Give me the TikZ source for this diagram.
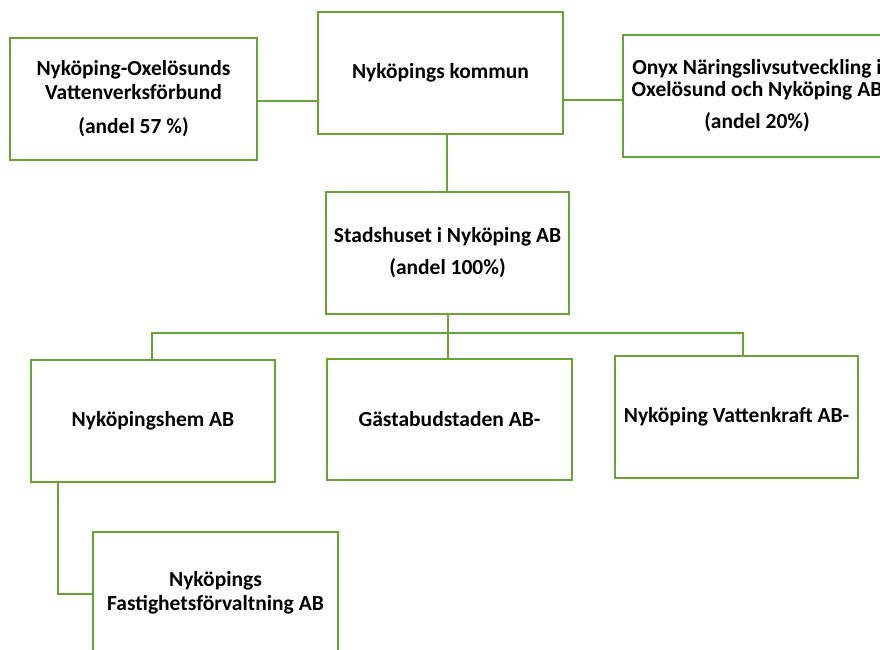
\documentclass[tikz,border=0pt]{standalone}
\usepackage{fontspec}
\setmainfont{Carlito}
\definecolor{boxgreen}{RGB}{104,164,52}
\begin{document}
\begin{tikzpicture}[x=1pt,y=-1pt,
  box/.style={draw=boxgreen,line width=2.6pt,fill=white,inner sep=0pt,align=center,
    font=\fontsize{21.5}{24}\selectfont\bfseries},
  conn/.style={draw=boxgreen,line width=2.6pt}]
\clip (0,0) rectangle (880,649);
\useasboundingbox (0,0) rectangle (880,649);
\node[box,minimum width=247pt,minimum height=122pt] (vv) at (133.5,99)
  {Nyköping-Oxelösunds\\Vattenverksförbund\\[10pt](andel 57 \%)};
\node[box,minimum width=245pt,minimum height=122pt] (kom) at (440.5,73) {Nyköpings kommun};
\node[box,minimum width=268pt,minimum height=122pt] (onyx) at (757,96)
  {Onyx Näringslivsutveckling i\\[-2pt]Oxelösund och Nyköping AB\\[8pt](andel 20\%)};
\node[box,minimum width=243pt,minimum height=122pt] (stad) at (447.5,253)
  {Stadshuset i Nyköping AB\\[8pt](andel 100\%)};
\node[box,minimum width=244pt,minimum height=122pt] (hem) at (153,421) {Nyköpingshem AB};
\node[box,minimum width=245pt,minimum height=121pt] (gast) at (449.5,419.5) {Gästabudstaden AB-};
\node[box,minimum width=243pt,minimum height=122pt] (kraft) at (736.5,417) {Nyköping Vattenkraft AB-};
\node[box,minimum width=245pt,minimum height=122pt] (fast) at (215.5,593)
  {Nyköpings\\Fastighetsförvaltning AB};
\coordinate (bus) at (448,333);
\draw[conn] (vv.east |- 0,101) -- (kom.west |- 0,101);
\draw[conn] (kom.east |- 0,100) -- (onyx.west |- 0,100);
\draw[conn] (kom.south -| 447,0) -- (stad.north -| 447,0);
\draw[conn] (stad.south -| bus) -- (gast.north -| bus);
\draw[conn] (hem.north -| 152,0) |- (bus) -| (kraft.north -| 743,0);
\draw[conn] (hem.south -| 58,0) |- (fast.west |- 0,594);
\end{tikzpicture}
\end{document}
